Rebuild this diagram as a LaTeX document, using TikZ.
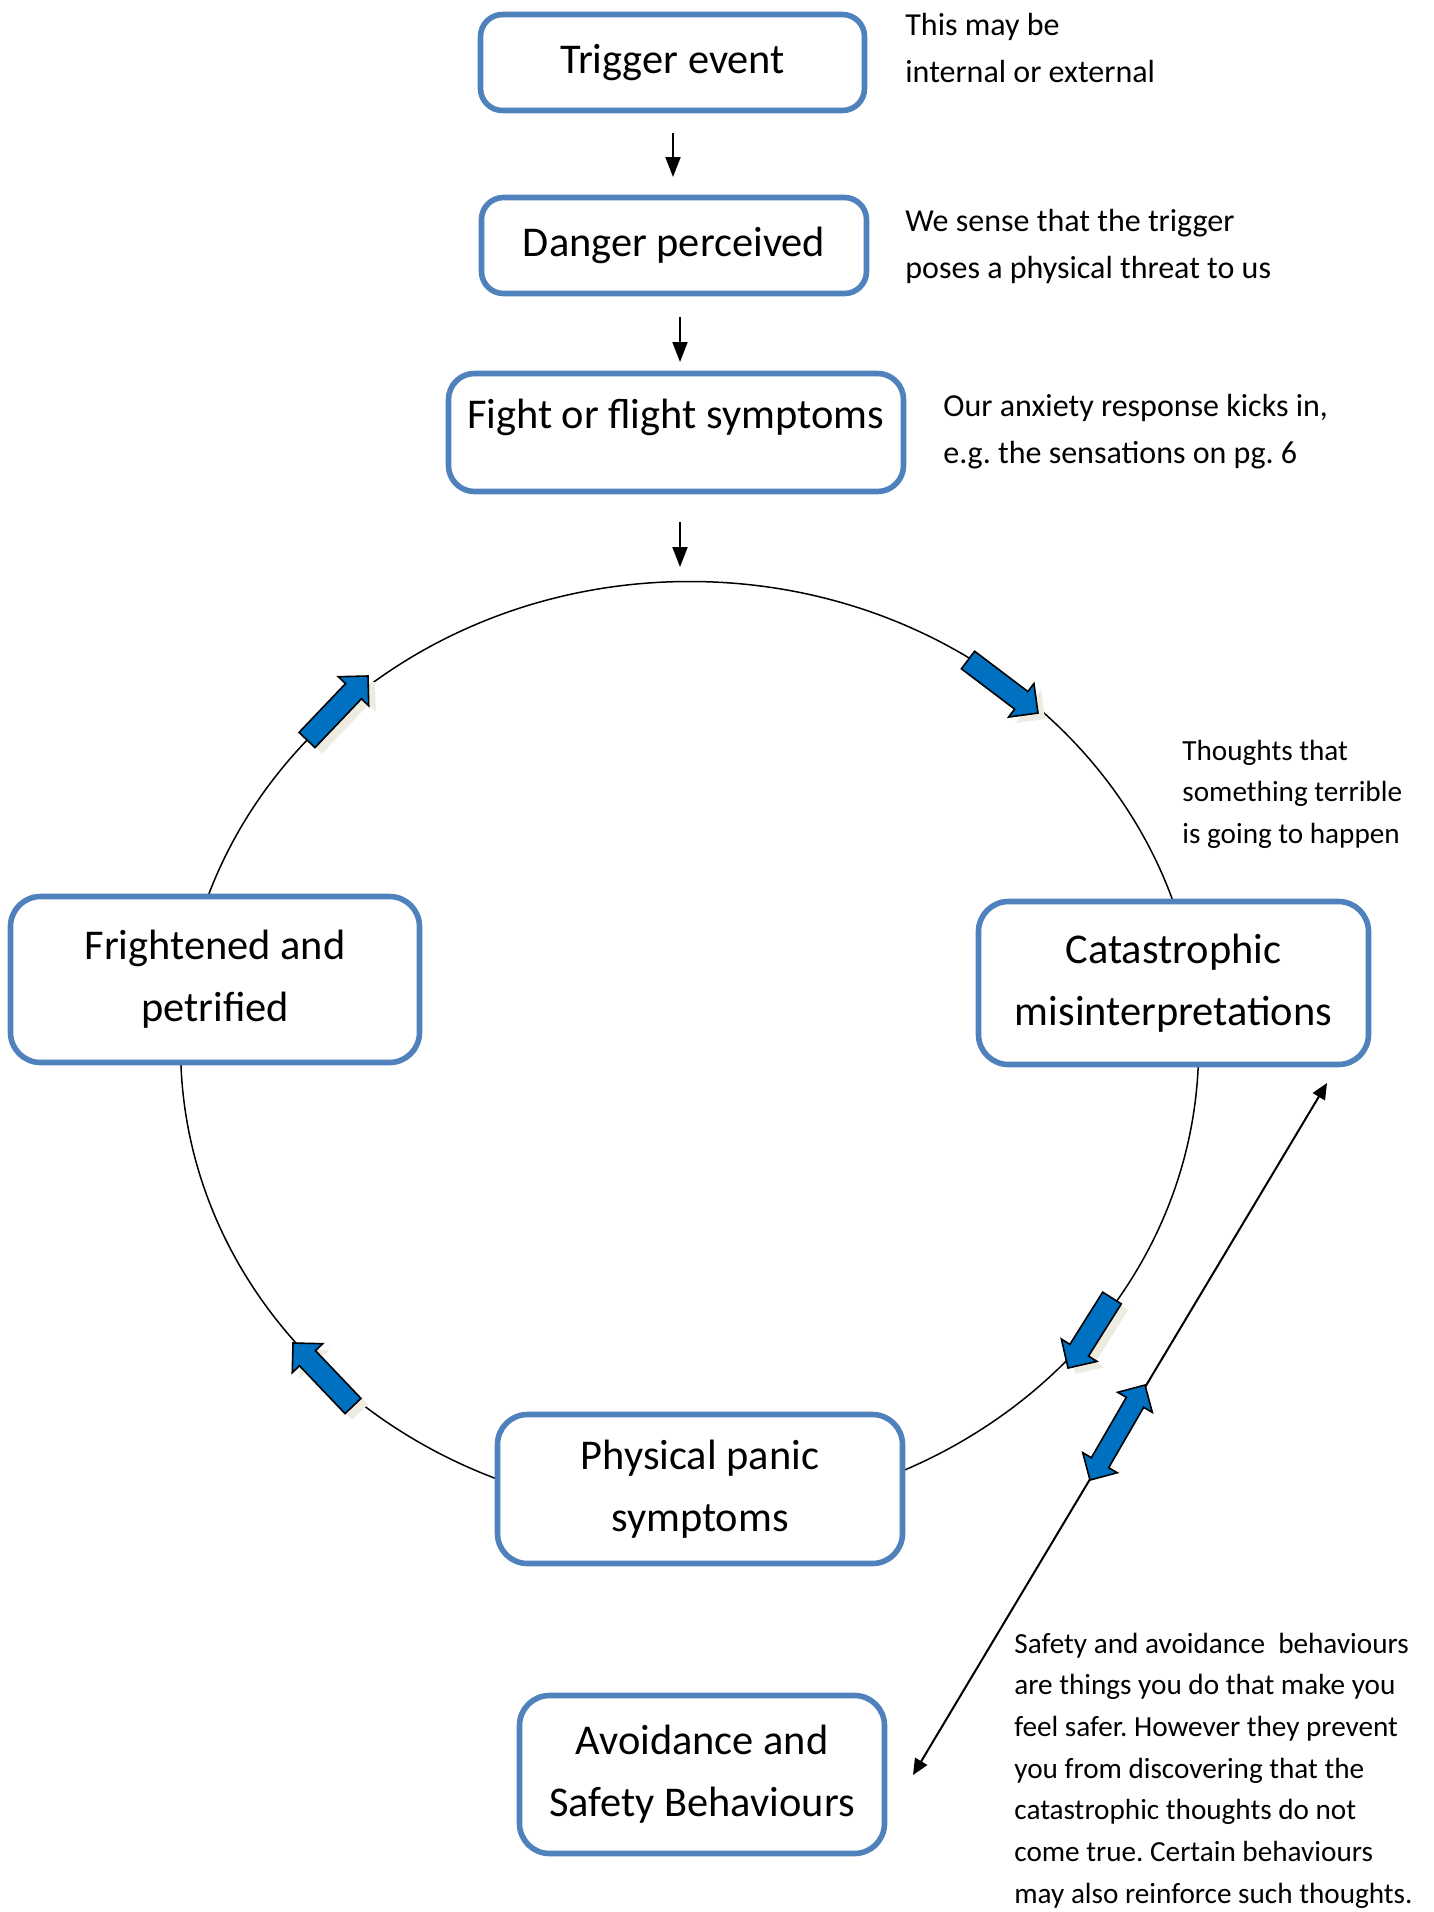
\documentclass[tikz,border=0pt]{standalone}
\usepackage{fontspec}
\setmainfont{Carlito}
\usetikzlibrary{calc,arrows.meta}
\frenchspacing
\definecolor{boxblue}{HTML}{4F81BD}
\definecolor{arrblue}{HTML}{0070C0}
\definecolor{shadowc}{HTML}{EEECE1}
\newcommand{\arrSW}{5.5pt}
\newcommand{\arrHW}{10.5pt}
\newcommand{\arrHL}{10.5pt}
\newcommand{\notestack}[2]{\vtop{\baselineskip=#1\relax #2}}
\newcommand{\blockarrowdraw}[3]{%
  \coordinate (#3h) at ($(#2)!\arrHL!(#1)$);
  \begin{scope}[transform canvas={xshift=3.5pt,yshift=-3pt}]
    \fill[shadowc] ($(#1)!\arrSW!90:(#2)$) -- ($(#3h)!\arrSW!90:(#2)$) -- ($(#3h)!\arrHW!90:(#2)$) -- (#2) -- ($(#3h)!\arrHW!-90:(#2)$) -- ($(#3h)!\arrSW!-90:(#2)$) -- ($(#1)!\arrSW!-90:(#2)$) -- cycle;
  \end{scope}
  \draw[blockarr] ($(#1)!\arrSW!90:(#2)$) -- ($(#3h)!\arrSW!90:(#2)$) -- ($(#3h)!\arrHW!90:(#2)$) -- (#2) -- ($(#3h)!\arrHW!-90:(#2)$) -- ($(#3h)!\arrSW!-90:(#2)$) -- ($(#1)!\arrSW!-90:(#2)$) -- cycle;
}
\tikzset{
  flowbox/.style={draw=boxblue, line width=2.8pt, fill=white, rounded corners=11pt, align=center, inner sep=0pt, font=\fontsize{21.2pt}{31pt}\selectfont},
  boxtext/.style={align=center, inner sep=0pt, font=\fontsize{21.2pt}{31pt}\selectfont},
  notebig/.style={anchor=base west, inner sep=0pt, font=\fontsize{16pt}{23.5pt}\selectfont},
  notesmall/.style={anchor=base west, inner sep=0pt, font=\fontsize{14.6pt}{20.9pt}\selectfont},
  smallarr/.style={line width=1pt, -{Triangle[length=10pt,width=7.5pt]}},
  longarr/.style={line width=1pt, {Triangle[length=8pt,width=7pt]}-{Triangle[length=8pt,width=7pt]}},
  blockarr/.style={draw=black, line width=0.8pt, fill=arrblue, line join=miter},
  cycleline/.style={line width=0.75pt, draw=black}
}
\begin{document}
\begin{tikzpicture}[x=0.5pt, y=-0.5pt]
\useasboundingbox (0,0) rectangle (1434,1912);

% cycle ellipse
\draw[cycleline] (689.6,1047.5) ellipse [x radius=254.5pt, y radius=233pt];

% long double-headed connector
\coordinate (catEnd) at (1327,1083);
\coordinate (avoidEnd) at (913,1775);
\draw[longarr] (catEnd) -- (avoidEnd);

% block arrows on the cycle
\coordinate (a1t) at (307,740);  \coordinate (a1p) at (368,676);
\coordinate (a2t) at (968,660);  \coordinate (a2p) at (1038,713);
\coordinate (a3t) at (1112,1298); \coordinate (a3p) at (1068,1368);
\coordinate (a4t) at (353,1406); \coordinate (a4p) at (293,1343);
\blockarrowdraw{a1t}{a1p}{a1}
\blockarrowdraw{a2t}{a2p}{a2}
\blockarrowdraw{a3t}{a3p}{a3}
\blockarrowdraw{a4t}{a4p}{a4}

% double block arrow
\coordinate (dP) at (1145,1385);
\coordinate (dQ) at (1090,1480);
\coordinate (dH1) at ($(dP)!10pt!(dQ)$);
\coordinate (dH2) at ($(dQ)!10pt!(dP)$);
\draw[blockarr] (dP) -- ($(dH1)!10pt!90:(dP)$) -- ($(dH1)!5pt!90:(dP)$) -- ($(dH2)!5pt!90:(dP)$) -- ($(dH2)!10pt!90:(dP)$) -- (dQ) -- ($(dH2)!10pt!-90:(dP)$) -- ($(dH2)!5pt!-90:(dP)$) -- ($(dH1)!5pt!-90:(dP)$) -- ($(dH1)!10pt!-90:(dP)$) -- cycle;

% boxes
\node[flowbox, minimum width=192pt, minimum height=48pt] (trigger) at (672.5,62.5) {Trigger event};
\node[flowbox, minimum width=192.5pt, minimum height=48pt] (danger) at (674,245.5) {Danger perceived};
\node[flowbox, minimum width=227.5pt, minimum height=59pt, rounded corners=13pt] (fight) at (676,432.5) {};
\node[boxtext] (fighttext) at (675.5,417) {Fight or flight symptoms};
\node[flowbox, minimum width=204.5pt, minimum height=83pt, rounded corners=15pt] (fright) at (215,979.5) {Frightened and\\petrified};
\node[flowbox, minimum width=195pt, minimum height=81.5pt, rounded corners=15pt] (cata) at (1173.5,983) {Catastrophic\\misinterpretations};
\node[flowbox, minimum width=202.5pt, minimum height=74.5pt, rounded corners=15pt] (phys) at (700,1489) {Physical panic\\symptoms};
\node[flowbox, minimum width=182.5pt, minimum height=79pt, rounded corners=15pt] (avoid) at (702,1774.5) {Avoidance and\\Safety Behaviours};

% small down arrows
\coordinate (s1) at (673,133);
\draw[smallarr] (s1) -- ++(0,44);
\coordinate (s2) at (680,317);
\draw[smallarr] (s2) -- ++(0,45);
\coordinate (s3) at (680,522);
\draw[smallarr] (s3) -- ++(0,45);

% notes
\node[notebig] (n1) at (905,35) {\notestack{23.5pt}{\hbox{This may be}\hbox{internal or external}}};
\node[notebig] (n2) at (905,231) {\notestack{23.5pt}{\hbox{We sense that the trigger}\hbox{poses a physical threat to us}}};
\node[notebig] (n3) at (943,416) {\notestack{23.5pt}{\hbox{Our anxiety response kicks in,}\hbox{e.g. the sensations on pg. 6}}};
\node[notesmall] (n4) at (1182,760) {\notestack{20.9pt}{\hbox{Thoughts that}\hbox{something terrible}\hbox{is going to happen}}};
\node[notesmall] (n5) at (1014,1653) {\notestack{20.85pt}{\hbox{Safety and avoidance~ behaviours}\hbox{are things you do that make you}\hbox{feel safer. However they prevent}\hbox{you from discovering that the}\hbox{catastrophic thoughts do not}\hbox{come true. Certain behaviours}\hbox{may also reinforce such thoughts.}}};
\end{tikzpicture}
\end{document}
